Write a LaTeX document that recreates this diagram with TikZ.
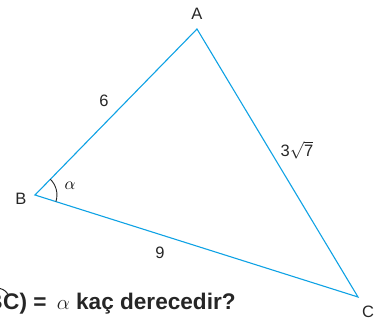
\documentclass[tikz,border=0pt]{standalone}
\usepackage{fontspec}
\setmainfont{Liberation Sans}
\usetikzlibrary{calc}
\begin{document}
\begin{tikzpicture}[x=1pt,y=-1pt,
  edge/.style={draw={rgb,255:red,15;green,162;blue,228},line width=1.1pt,line join=miter},
  vlabel/.style={font=\fontsize{16.5}{18}\selectfont,text=black!85,inner sep=0pt},
  slabel/.style={font=\fontsize{16.5}{18}\selectfont,text=black!85,inner sep=0pt},
  qtext/.style={inner sep=0pt,font=\fontsize{22.6}{24}\selectfont\bfseries,text=black!85}]
\useasboundingbox (0,0) rectangle (384,322);
\clip (0,0) rectangle (384,322);
\coordinate (A) at (197,29);
\coordinate (B) at (35,195);
\coordinate (C) at (358,297);
\draw[edge] (A) -- (B) -- (C) -- cycle;
\node[vlabel] (lA) at (197,14) {A};
\node[vlabel] (lB) at (21,199) {B};
\node[vlabel] (lC) at (368,312) {C};
\node[slabel] (l6) at (104,101) {6};
\node[slabel] (l9) at (160,253) {9};
\node[slabel] (l37) at (297,150) {3$\sqrt{\mbox{7}}$};
% angle at B
\draw[line width=0.9pt,black!85] ($(B)!22pt!(A)$) arc[start angle=45.5,end angle=-17.5,radius=22pt];
\node[inner sep=0pt,font=\fontsize{18}{20}\selectfont] (alpha) at (70,186) {$\alpha$};
% question text
\node[qtext,anchor=base west] (q) at (3,309) {C) =\hspace{4pt} {\fontsize{20}{22}\selectfont$\alpha$} kaç derecedir?};
\node[qtext,anchor=base east] (qb) at (q.base west) {m(AB};
\draw[line width=1pt,black!85] (0,288.5) to[bend left=25] (8.5,295.5);
\end{tikzpicture}
\end{document}
